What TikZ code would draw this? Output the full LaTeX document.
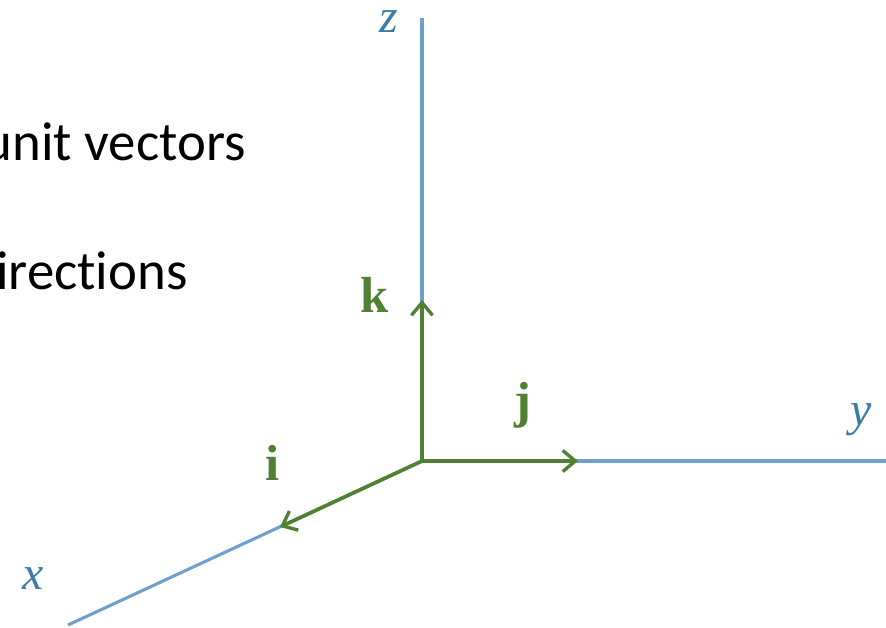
\documentclass[tikz,border=0pt]{standalone}
\usepackage{fontspec}
\setmainfont{Liberation Serif}
\newfontfamily\calibri[Ligatures=NoCommon]{Carlito}
\usepackage{xcolor}
\usetikzlibrary{arrows.meta,positioning}
\definecolor{axisblue}{RGB}{110,160,205}
\definecolor{labelblue}{RGB}{60,125,165}
\definecolor{vecgreen}{RGB}{80,128,50}

\begin{document}
\begin{tikzpicture}[x=0.025cm, y=-0.025cm,
    axis/.style={draw=axisblue, line width=2.2pt},
    vec/.style={draw=vecgreen, line width=2.6pt, -{Straight Barb[length=9pt,width=15pt,line width=2.4pt]}},
    axlabel/.style={text=labelblue, inner sep=0pt, font=\fontsize{34}{36}\selectfont\itshape},
    veclabel/.style={text=vecgreen, inner sep=0pt, font=\fontsize{36}{38}\selectfont\bfseries},
    words/.style={anchor=base east, inner sep=0pt, font=\calibri\fontsize{39}{44}\selectfont}
]
\useasboundingbox (0,0) rectangle (886,627);

% axes
\coordinate (origin) at (422,461);
\coordinate (zend) at (422,18);
\coordinate (yend) at (886,461);
\coordinate (xend) at (68,625);
\draw[axis] (origin) -- (zend);
\draw[axis] (origin) -- (yend);
\draw[axis] (origin) -- (xend);

% unit vectors
\coordinate (ktip) at (422,300);
\coordinate (jtip) at (578,461);
\coordinate (itip) at (280,527);
\draw[vec] (origin) -- (ktip);
\draw[vec] (origin) -- (jtip);
\draw[vec] (origin) -- (itip);

% labels
\node[axlabel] (zlab) at (389,22) {z};
\node[axlabel] (ylab) at (861,420) {y};
\node[axlabel] (xlab) at (33,579) {x};
\node[veclabel] (klab) at (375,295) {k};
\node[veclabel] (jlab) at (523,405) {j};
\node[veclabel] (ilab) at (273,463) {i};

% text
\node[words] (line1) at (246,160) {unit vectors};
\node[words] (line2) at (188,289) {irections};
\end{tikzpicture}
\end{document}
